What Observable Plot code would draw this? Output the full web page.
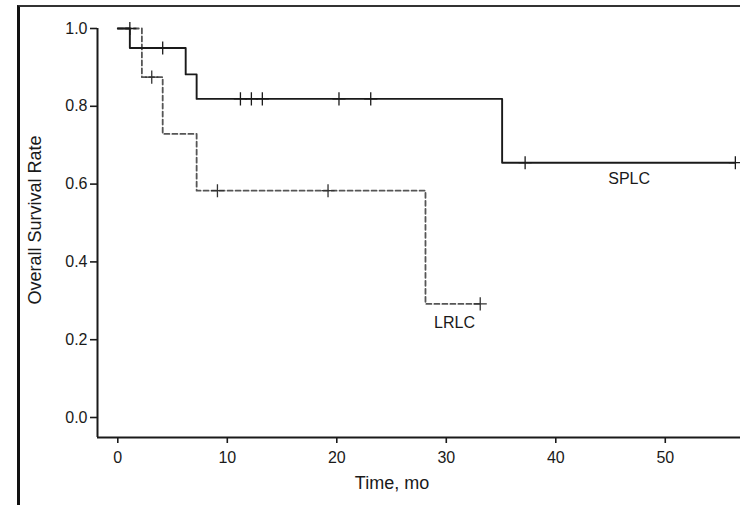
<!DOCTYPE html>
<html>
<head>
<meta charset="utf-8">
<script src="https://cdn.jsdelivr.net/npm/d3@7"></script>
<script src="https://cdn.jsdelivr.net/npm/@observablehq/plot@0.6"></script>
<style>
  html, body { margin: 0; padding: 0; background: #fff; }
  #wrap { position: relative; width: 740px; height: 505px; overflow: hidden; }
  #border { position: absolute; left: 17px; top: 5px; right: -10px; bottom: -10px;
            border-left: 3.5px solid #111; border-top: 2.5px solid #333; pointer-events: none; }
</style>
</head>
<body>
<div id="wrap"><div id="border"></div></div>
<script>
// Kaplan-Meier step curves (time in months, survival rate)
const splcTime = [0, 1.1, 6.2, 7.2, 35.1, 56.4];
const splcSurv = [1.0, 0.95, 0.882, 0.819, 0.655, 0.655];
const lrlcTime = [0, 2.2, 4.1, 7.2, 28.1, 33.1];
const lrlcSurv = [1.0, 0.875, 0.729, 0.583, 0.292, 0.292];

// Censored observations (+)
const splcCensorTime = [1.1, 4.1, 11.2, 12.2, 13.2, 20.2, 23.1, 37.2, 56.4];
const splcCensorSurv = [1.0, 0.95, 0.819, 0.819, 0.819, 0.819, 0.819, 0.655, 0.655];
const lrlcCensorTime = [3.1, 9.1, 19.2, 33.1];
const lrlcCensorSurv = [0.875, 0.583, 0.583, 0.292];

// Group labels
const groupNames = ["SPLC", "LRLC"];
const groupLabelTime = [46.7, 30.75];
const groupLabelSurv = [0.614, 0.242];

const xTicks = [0, 10, 20, 30, 40, 50];
const yTicks = [0.0, 0.2, 0.4, 0.6, 0.8, 1.0];
const xTitle = "Time, mo";
const yTitle = "Overall Survival Rate";

const splc = splcTime.map((t, i) => ({t, s: splcSurv[i]}));
const lrlc = lrlcTime.map((t, i) => ({t, s: lrlcSurv[i]}));
const splcC = splcCensorTime.map((t, i) => ({t, s: splcCensorSurv[i]}));
const lrlcC = lrlcCensorTime.map((t, i) => ({t, s: lrlcCensorSurv[i]}));
const labels = groupNames.map((n, i) => ({n, t: groupLabelTime[i], s: groupLabelSurv[i]}));

const ink = "#1a1a1a";
const chart = Plot.plot({
  width: 740,
  height: 505,
  marginLeft: 97,
  marginRight: 0,
  marginTop: 28,
  marginBottom: 68,
  style: {fontFamily: "'Liberation Sans', Arial, sans-serif", fontSize: "16px", color: ink, background: "transparent"},
  x: {domain: [-1.854, 56.87], ticks: xTicks, tickFormat: d3.format("d"), label: null},
  y: {domain: [-0.0514, 1.0], ticks: yTicks, tickFormat: d3.format(".1f"), label: null},
  marks: [
    Plot.axisX({ticks: xTicks, tickFormat: d3.format("d"), tickSize: 6, tickPadding: 8, label: null, stroke: ink, strokeWidth: 1.6}),
    Plot.axisY({ticks: yTicks, tickFormat: d3.format(".1f"), tickSize: 7, tickPadding: 3, label: null, stroke: ink, strokeWidth: 1.6}),
    Plot.ruleY([-0.0514], {stroke: ink, strokeWidth: 2}),
    Plot.ruleX([-1.854], {y1: -0.0514, y2: 1.0, stroke: ink, strokeWidth: 2}),
    Plot.line(lrlc, {x: "t", y: "s", curve: "step-after", stroke: "#555", strokeWidth: 1.8, strokeDasharray: "5,3"}),
    Plot.line(splc, {x: "t", y: "s", curve: "step-after", stroke: ink, strokeWidth: 1.9}),
    Plot.dot(lrlcC, {x: "t", y: "s", symbol: "plus", r: 4.3, stroke: "#333", strokeWidth: 1.3}),
    Plot.dot(splcC, {x: "t", y: "s", symbol: "plus", r: 4.3, stroke: ink, strokeWidth: 1.3}),
    Plot.text(labels, {x: "t", y: "s", text: "n", fontSize: 16, fill: ink}),
    Plot.text([xTitle], {frameAnchor: "bottom", dx: -27, dy: 46, fontSize: 18, fill: ink, textAnchor: "middle", lineAnchor: "middle"}),
    Plot.text([yTitle], {frameAnchor: "left", dx: -62, dy: -13, rotate: -90, fontSize: 18, fill: ink, textAnchor: "middle", lineAnchor: "middle"})
  ]
});
document.getElementById("wrap").prepend(chart);
</script>
</body>
</html>
